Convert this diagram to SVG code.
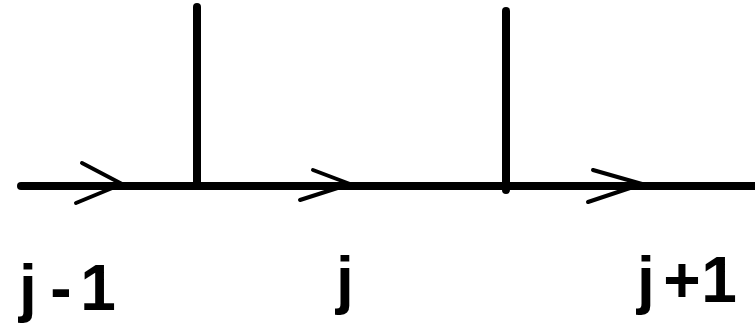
<svg xmlns="http://www.w3.org/2000/svg" width="755" height="328" viewBox="0 0 755 328">
<style>
.ln{stroke:#000;stroke-width:8;stroke-linecap:round;fill:none}
.ar{stroke:#000;stroke-width:4;stroke-linecap:round;stroke-linejoin:round;fill:none}
.lb{font-family:"Liberation Sans",Arial,sans-serif;font-weight:bold;font-size:64px;fill:#000;text-anchor:middle}
</style>
<rect width="755" height="328" fill="#fff"/>
<g id="connectors">
<line class="ln" x1="21" y1="186" x2="760" y2="186"/>
<line class="ln" x1="197" y1="7" x2="197" y2="186"/>
<line class="ln" x1="506" y1="11" x2="506" y2="190"/>
<polyline class="ar" points="82,163 122,184 76,203"/>
<polyline class="ar" points="313,170 350,184 300,200"/>
<polyline class="ar" points="593,170 642,184 588,202"/>
</g>
<g id="label-jm1"><text class="lb" y="310"><tspan x="28">j</tspan><tspan x="61">-</tspan><tspan x="98">1</tspan></text></g>
<g id="label-j"><text class="lb" x="345" y="302">j</text></g>
<g id="label-jp1"><text class="lb" y="302"><tspan x="646">j</tspan><tspan x="682">+</tspan><tspan x="719">1</tspan></text></g>
</svg>
